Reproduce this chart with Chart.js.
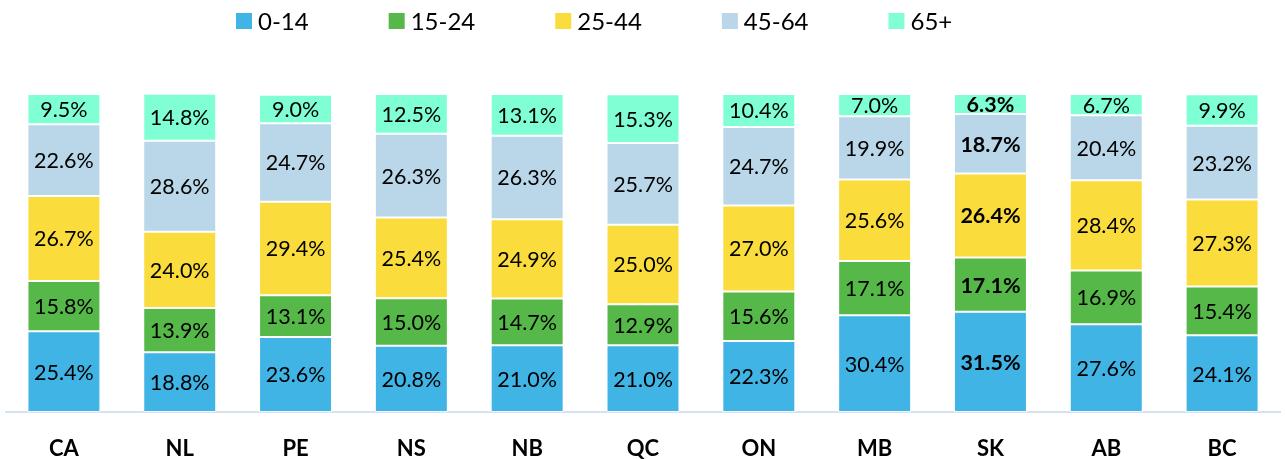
<!DOCTYPE html>
<html>
<head>
<meta charset="utf-8">
<script src="https://cdn.jsdelivr.net/npm/chart.js@4/dist/chart.umd.min.js"></script>
<style>
  html, body { margin: 0; padding: 0; background: #fff; }
  #wrap { width: 1285px; height: 459px; position: relative; }
</style>
</head>
<body>
<div id="wrap"><canvas id="c"></canvas></div>
<script>
const categories = ['CA', 'NL', 'PE', 'NS', 'NB', 'QC', 'ON', 'MB', 'SK', 'AB', 'BC'];
const seriesNames = ['0-14', '15-24', '25-44', '45-64', '65+'];
const age0to14  = [25.4, 18.8, 23.6, 20.8, 21.0, 21.0, 22.3, 30.4, 31.5, 27.6, 24.1];
const age15to24 = [15.8, 13.9, 13.1, 15.0, 14.7, 12.9, 15.6, 17.1, 17.1, 16.9, 15.4];
const age25to44 = [26.7, 24.0, 29.4, 25.4, 24.9, 25.0, 27.0, 25.6, 26.4, 28.4, 27.3];
const age45to64 = [22.6, 28.6, 24.7, 26.3, 26.3, 25.7, 24.7, 19.9, 18.7, 20.4, 23.2];
const age65plus = [9.5, 14.8, 9.0, 12.5, 13.1, 15.3, 10.4, 7.0, 6.3, 6.7, 9.9];
const boldCategories = ['SK'];
const seriesColors = ['#41B4E6', '#55B848', '#FADC3C', '#B9D7E8', '#80FFD4'];
const FONT = 'Lato, "Open Sans", sans-serif';

const allSeries = [age0to14, age15to24, age25to44, age45to64, age65plus];

const labelPlugin = {
  id: 'segLabels',
  afterDatasetsDraw(chart) {
    const ctx = chart.ctx;
    ctx.save();
    ctx.textAlign = 'center';
    ctx.textBaseline = 'middle';
    ctx.fillStyle = '#000';
    chart.data.datasets.forEach((ds, di) => {
      const meta = chart.getDatasetMeta(di);
      meta.data.forEach((el, i) => {
        const bold = boldCategories.includes(chart.data.labels[i]);
        ctx.font = (bold ? 'bold ' : '') + '21.5px ' + FONT;
        const y = (el.y + el.base) / 2;
        ctx.fillText(ds.data[i].toFixed(1) + '%', el.x, y + 1);
      });
    });
    ctx.restore();
  }
};

const legendPlugin = {
  id: 'topLegend',
  afterDraw(chart, args, opts) {
    const ctx = chart.ctx;
    ctx.save();
    ctx.font = '24px ' + FONT;
    ctx.textBaseline = 'middle';
    const boxS = 16, gapBox = 6, gapItem = 80;
    let x = opts.left;
    const cy = opts.centerY;
    chart.data.datasets.forEach(ds => {
      ctx.fillStyle = ds.backgroundColor;
      ctx.fillRect(x, cy - boxS / 2, boxS, boxS);
      ctx.fillStyle = '#000';
      ctx.fillText(ds.label, x + boxS + gapBox, cy + 1);
      x += boxS + gapBox + ctx.measureText(ds.label).width + gapItem;
    });
    ctx.restore();
  }
};

new Chart(document.getElementById('c'), {
  type: 'bar',
  data: {
    labels: categories,
    datasets: seriesNames.map((name, i) => ({
      label: name,
      data: allSeries[i],
      backgroundColor: seriesColors[i],
      borderColor: 'rgba(255,255,255,0.7)',
      borderWidth: 1,
      borderSkipped: false,
      barPercentage: 0.63,
      categoryPercentage: 1.0
    }))
  },
  options: {
    responsive: true,
    maintainAspectRatio: false,
    animation: false,
    layout: { padding: { left: 6, right: 5, top: 94, bottom: 0 } },
    plugins: {
      legend: { display: false },
      tooltip: { enabled: false },
      topLegend: { left: 236, centerY: 21 }
    },
    scales: {
      x: {
        stacked: true,
        grid: { display: false, drawTicks: false },
        border: { display: true, color: '#D6E2F1', width: 2 },
        ticks: { color: '#000', padding: 24, font: { family: FONT, size: 22, weight: 'bold' } },
        afterFit(scale) { scale.height = 47; }
      },
      y: {
        stacked: true,
        display: false,
        min: 0,
        max: 100
      }
    }
  },
  plugins: [labelPlugin, legendPlugin]
});
</script>
</body>
</html>
